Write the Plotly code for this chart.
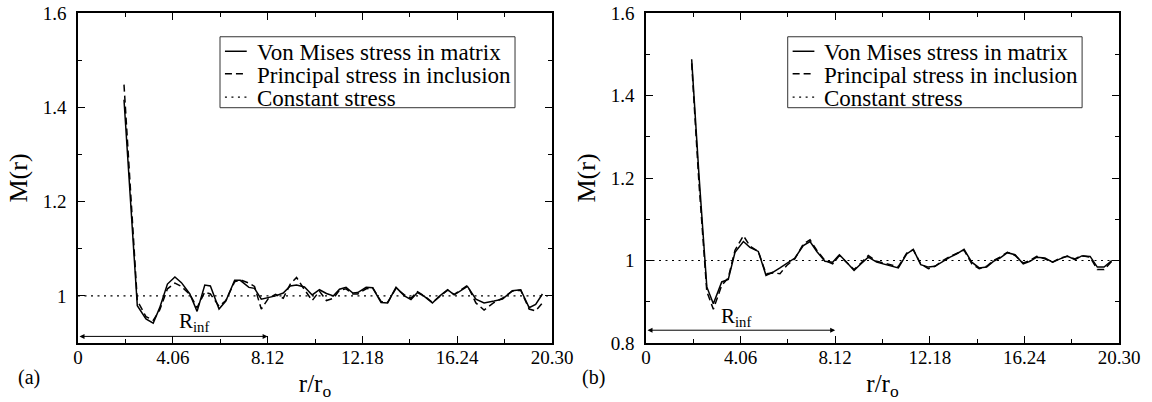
import plotly.graph_objects as go

# ---------------- data ----------------
# panel (a)
r_a = [1.97, 2.27, 2.54, 2.91, 3.22, 3.50, 3.83, 4.15, 4.43, 4.79, 5.10, 5.43, 5.67, 6.04, 6.33,
       6.71, 6.95, 7.32, 7.56, 7.85, 8.16, 8.46, 8.79, 9.09, 9.36, 9.70, 10.03, 10.34, 10.64, 10.94,
       11.20, 11.48, 11.77, 11.98, 12.34, 12.62, 12.98, 13.26, 13.62, 13.98, 14.26, 14.54, 14.83,
       15.18, 15.47, 15.83, 16.11, 16.40, 16.68, 17.04, 17.39, 17.82, 18.18, 18.60, 18.96, 19.32,
       19.60, 19.89]
vonmises_a = [1.416, 1.19, 0.979, 0.951, 0.942, 0.975, 1.025, 1.040, 1.028, 1.004, 0.967, 1.023, 1.021,
              0.972, 0.989, 1.033, 1.033, 1.018, 1.016, 0.993, 0.997, 1.0, 1.006, 1.021, 1.023, 1.019,
              1.002, 1.013, 1.005, 1.0, 1.014, 1.018, 1.006, 1.007, 1.018, 1.017, 0.986, 0.985, 1.018,
              1.0, 0.992, 1.007, 0.999, 0.985, 0.999, 1.013, 1.002, 1.011, 1.020, 0.993, 0.985, 0.989,
              0.993, 1.011, 1.013, 0.975, 0.982, 1.004]
principal_a = [1.448, 1.21, 0.99, 0.956, 0.948, 0.97, 1.015, 1.027, 1.020, 1.003, 0.975, 1.008, 1.004,
               0.978, 0.99, 1.030, 1.034, 1.027, 1.020, 0.972, 0.995, 1.003, 0.995, 1.025, 1.039, 1.013,
               0.99, 1.01, 0.99, 0.995, 1.012, 1.015, 1.004, 1.004, 1.015, 1.017, 0.988, 0.986, 1.016,
               1.002, 0.995, 1.009, 1.0, 0.986, 0.998, 1.012, 1.003, 1.013, 1.022, 0.985, 0.970, 0.986,
               0.995, 1.010, 1.012, 0.972, 0.968, 0.985]

# panel (b)
r_b = [1.96, 2.27, 2.61, 2.89, 3.25, 3.53, 3.82, 4.18, 4.46, 4.82, 5.15, 5.46, 5.75, 6.04, 6.39,
       6.75, 7.04, 7.33, 7.68, 8.01, 8.30, 8.61, 8.93, 9.23, 9.54, 9.90, 10.18, 10.51, 10.83, 11.19,
       11.47, 11.79, 12.12, 12.40, 12.69, 13.05, 13.34, 13.65, 13.98, 14.30, 14.62, 14.91, 15.19,
       15.51, 15.84, 16.19, 16.48, 16.77, 17.12, 17.45, 17.77, 18.08, 18.41, 18.70, 19.06, 19.37,
       19.66, 19.99]
vonmises_b = [1.488, 1.21, 0.936, 0.895, 0.948, 0.954, 1.020, 1.046, 1.032, 1.022, 0.964, 0.972, 0.982,
              0.992, 1.006, 1.036, 1.046, 1.022, 0.998, 0.996, 1.014, 0.996, 0.976, 0.992, 1.008, 0.996,
              0.992, 0.988, 0.982, 1.016, 1.027, 0.990, 0.984, 0.986, 0.996, 1.008, 1.016, 1.027, 0.996,
              0.982, 0.984, 0.998, 1.006, 1.019, 1.014, 0.992, 0.998, 1.008, 1.006, 0.996, 1.004, 1.011,
              1.002, 1.011, 1.010, 0.984, 0.984, 1.0]
principal_b = [1.478, 1.19, 0.925, 0.882, 0.94, 0.958, 1.025, 1.060, 1.035, 1.022, 0.968, 0.970, 0.968,
               0.988, 1.004, 1.040, 1.050, 1.025, 1.0, 0.992, 1.012, 0.995, 0.978, 0.994, 1.012, 0.998,
               0.994, 0.99, 0.985, 1.018, 1.026, 0.992, 0.980, 0.986, 0.998, 1.010, 1.018, 1.025, 0.992,
               0.980, 0.986, 1.0, 1.008, 1.02, 1.012, 0.994, 1.0, 1.01, 1.004, 0.996, 1.006, 1.01, 1.004,
               1.012, 1.008, 0.978, 0.978, 0.998]

const_r = [0.0, 20.30]
const_m = [1.0, 1.0]

x_ticks = [0, 4.06, 8.12, 12.18, 16.24, 20.30]
x_ticktext = ["0", "4.06", "8.12", "12.18", "16.24", "20.30"]
x_minor = [2.03, 6.09, 10.15, 14.21, 18.27]
ya_ticks = [1.0, 1.2, 1.4, 1.6]
ya_ticktext = ["1", "1.2", "1.4", "1.6"]
ya_minor = [0.9, 1.1, 1.3, 1.5]
yb_ticks = [0.8, 1.0, 1.2, 1.4, 1.6]
yb_ticktext = ["0.8", "1", "1.2", "1.4", "1.6"]
yb_minor = [0.9, 1.1, 1.3, 1.5]

legend_names = ["Von Mises stress in matrix", "Principal stress in inclusion", "Constant stress"]
r_inf = 8.12
rinf_y = {"a": 0.914, "b": 0.831}
rinf_label = {"a": (4.96, 0.944), "b": (3.86, 0.864)}

# ---------------- styling ----------------
FONT = "'Liberation Serif', 'Times New Roman', serif"
LW = 1.5
DASH = "7px,4px"
DOT = "2px,4.5px"

fig = go.Figure()

panels = [
    ("x", "y", r_a, vonmises_a, principal_a),
    ("x2", "y2", r_b, vonmises_b, principal_b),
]
for xa, ya, rr, vm, pr in panels:
    fig.add_trace(go.Scatter(x=rr, y=vm, mode="lines", xaxis=xa, yaxis=ya, name=legend_names[0],
                             line=dict(color="black", width=LW), showlegend=False))
    fig.add_trace(go.Scatter(x=rr, y=pr, mode="lines", xaxis=xa, yaxis=ya, name=legend_names[1],
                             line=dict(color="black", width=LW, dash=DASH), showlegend=False))
    fig.add_trace(go.Scatter(x=const_r, y=const_m, mode="lines", xaxis=xa, yaxis=ya, name=legend_names[2],
                             line=dict(color="black", width=1.2, dash=DOT), showlegend=False))

def xaxis_cfg(domain):
    return dict(domain=domain, range=[0, 20.30], tickmode="array", tickvals=x_ticks,
                ticktext=x_ticktext, ticks="inside", ticklen=7, tickwidth=1.2, tickcolor="black",
                minor=dict(tickmode="array", tickvals=x_minor, ticks="inside", ticklen=4,
                           tickwidth=1.2, tickcolor="black"),
                showline=True, linecolor="black", linewidth=1.5, mirror="ticks",
                showgrid=False, zeroline=False, automargin=False,
                ticklabelstandoff=-4,
                tickfont=dict(family=FONT, size=19, color="black"),
                title=dict(text="r/r<sub>o</sub>", font=dict(family=FONT, size=25, color="black"),
                           standoff=8))

def yaxis_cfg(rng, tv, tt, minor, anchor):
    return dict(domain=[0, 1], range=rng, tickmode="array", tickvals=tv, ticktext=tt,
                ticks="inside", ticklen=7, tickwidth=1.2, tickcolor="black",
                minor=dict(tickmode="array", tickvals=minor, ticks="inside", ticklen=4,
                           tickwidth=1.2, tickcolor="black"),
                showline=True, linecolor="black", linewidth=1.5, mirror="ticks",
                showgrid=False, zeroline=False, anchor=anchor, automargin=False,
                ticklabelstandoff=6,
                tickfont=dict(family=FONT, size=19, color="black"),
                title=dict(text="M(r)", font=dict(family=FONT, size=26, color="black"),
                           standoff=8))

L, R, T, B = 78, 33, 13, 59
W = 1152 - L - R
H = 402 - T - B
dom_a = [0, (552 - 78) / W]
dom_b = [(646 - 78) / W, 1.0]

fig.update_layout(
    width=1152, height=402,
    margin=dict(l=L, r=R, t=T, b=B, autoexpand=False),
    paper_bgcolor="white", plot_bgcolor="white",
    showlegend=False,
    font=dict(family=FONT, color="black"),
    xaxis=xaxis_cfg(dom_a),
    xaxis2=dict(xaxis_cfg(dom_b), anchor="y2"),
    yaxis=yaxis_cfg([0.9, 1.6], ya_ticks, ya_ticktext, ya_minor, "x"),
    yaxis2=yaxis_cfg([0.8, 1.6], yb_ticks, yb_ticktext, yb_minor, "x2"),
)
fig.layout.xaxis.anchor = "y"

# custom legend boxes (decoration)
legend_box = dict(x0=0.2996, x1=0.922, y0=0.713, y1=0.928)
row_y = [0.884, 0.816, 0.745]
sample_x = (0.310, 0.356)
text_x = 0.373
dashes = ["solid", DASH, DOT]
widths = [LW, LW, 1.2]
for xa, ya in [("x", "y"), ("x2", "y2")]:
    fig.add_shape(type="rect", xref=f"{xa} domain", yref=f"{ya} domain",
                  x0=legend_box["x0"], x1=legend_box["x1"], y0=legend_box["y0"], y1=legend_box["y1"],
                  line=dict(color="#333333", width=1), fillcolor="white", layer="above")
    for i, name in enumerate(legend_names):
        fig.add_shape(type="line", xref=f"{xa} domain", yref=f"{ya} domain",
                      x0=sample_x[0], x1=sample_x[1], y0=row_y[i], y1=row_y[i],
                      line=dict(color="black", width=widths[i], dash=dashes[i]), layer="above")
        fig.add_annotation(xref=f"{xa} domain", yref=f"{ya} domain", x=text_x, y=row_y[i] - 0.004,
                           text=name, showarrow=False, xanchor="left", yanchor="middle",
                           font=dict(family=FONT, size=23, color="black"))

# R_inf arrows
for key, xa, ya in [("a", "x", "y"), ("b", "x2", "y2")]:
    fig.add_annotation(x=r_inf, y=rinf_y[key], ax=0, ay=rinf_y[key], xref=xa, yref=ya,
                       axref=xa, ayref=ya, showarrow=True, arrowhead=2, arrowside="end+start",
                       arrowsize=1, arrowwidth=1, arrowcolor="black", text="")
    lx, ly = rinf_label[key]
    fig.add_annotation(x=lx, y=ly, xref=xa, yref=ya, showarrow=False,
                       xanchor="center", yanchor="middle",
                       text="R<sub>inf</sub>", font=dict(family=FONT, size=21, color="black"))

# panel labels
for lbl, px in [("(a)", 29), ("(b)", 593)]:
    fig.add_annotation(xref="paper", yref="paper", x=(px - L) / W, y=(T + H - 378) / H, text=lbl,
                       showarrow=False, xanchor="center", yanchor="middle",
                       font=dict(family=FONT, size=20, color="black"))

fig.write_html("out.html")
